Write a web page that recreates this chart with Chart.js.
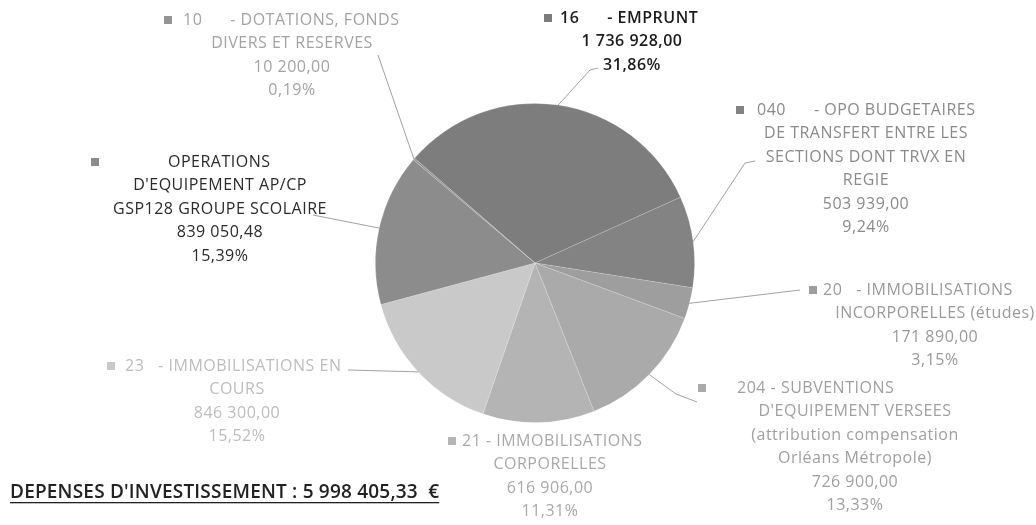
<!DOCTYPE html>
<html>
<head>
<meta charset="utf-8">
<script src="https://cdn.jsdelivr.net/npm/chart.js@4.4.0/dist/chart.umd.min.js"></script>
<style>
  html, body { margin: 0; padding: 0; background: #fff; }
  #wrap { position: relative; width: 1036px; height: 525px; }
</style>
</head>
<body>
<div id="wrap"><canvas id="grafico" width="1036" height="525"></canvas></div>
<script>
// Donnees du graphique (ordre horaire depuis l'emprunt)
const codes = ['16', '040', '20', '204', '21', '23', '', '10'];
const categories = [
  ['- EMPRUNT'],
  ['- OPO BUDGETAIRES', 'DE TRANSFERT ENTRE LES', 'SECTIONS DONT TRVX EN', 'REGIE'],
  ['- IMMOBILISATIONS', 'INCORPORELLES (études)'],
  ['- SUBVENTIONS', "D'EQUIPEMENT VERSEES", '(attribution compensation', 'Orléans Métropole)'],
  ['- IMMOBILISATIONS', 'CORPORELLES'],
  ['- IMMOBILISATIONS EN', 'COURS'],
  ['OPERATIONS', "D'EQUIPEMENT AP/CP", 'GSP128 GROUPE SCOLAIRE'],
  ['- DOTATIONS, FONDS', 'DIVERS ET RESERVES']
];
const montants = [1736928.00, 503939.00, 171890.00, 726900.00, 616906.00, 846300.00, 839050.48, 10200.00];
const montantsTexte = ['1 736 928,00', '503 939,00', '171 890,00', '726 900,00', '616 906,00', '846 300,00', '839 050,48', '10 200,00'];
const pourcentages = ['31,86%', '9,24%', '3,15%', '13,33%', '11,31%', '15,52%', '15,39%', '0,19%'];
const titre = "DEPENSES D'INVESTISSEMENT : 5 998 405,33  €";

// Couleurs (scan en niveaux de gris)
const couleurs = ['#7d7d7d', '#838383', '#9e9e9e', '#aaaaaa', '#b4b4b4', '#c9c9c9', '#8c8c8c', '#949494'];
const couleursTexte = ['#1c1c1c', '#8a8a8a', '#9a9a9a', '#a0a0a0', '#a9a9a9', '#bdbdbd', '#2a2a2a', '#a3a3a3'];
const gras = [true, false, false, false, false, false, false, false];

// Position des etiquettes : centre du bloc, premiere ligne, carre, debut du texte
const etiquettes = [
  { cx: 632, y: 18, sq: 548, tx: 560, sep: '      ' },
  { cx: 866, y: 110, sq: 740, tx: 757, sep: '      ' },
  { cx: 935, y: 290, sq: 813, tx: 823, sep: '   ' },
  { cx: 855, y: 388, sq: 702, tx: 737, sep: ' ' },
  { cx: 550, y: 441, sq: 452, tx: 462, sep: ' ' },
  { cx: 237, y: 366, sq: 111, tx: 125, sep: '   ' },
  { cx: 220, y: 162, sq: 95, tx: 168, sep: '' },
  { cx: 292, y: 20, sq: 168, tx: 183, sep: '      ' }
];
// coude des traits de rappel (null = pas de trait)
const coudes = [
  [[590, 70], [598, 68]],
  [[745, 163], [755, 161]],
  [[800, 290]],
  [[676, 394], [697, 402]],
  null,
  [[348, 370]],
  [[313, 215]],
  [[378, 55]]
];

const hauteurLigne = 23.5;
const police = '"Open Sans", sans-serif';

const etiquettesPlugin = {
  id: 'etiquettes',
  afterDraw(chart) {
    const ctx = chart.ctx;
    const arcs = chart.getDatasetMeta(0).data;
    ctx.save();
    // traits de rappel
    arcs.forEach((arc, i) => {
      if (!coudes[i]) return;
      const p = arc.getProps(['x', 'y', 'startAngle', 'endAngle', 'outerRadius'], true);
      const a = (p.startAngle + p.endAngle) / 2;
      const x0 = p.x + Math.cos(a) * p.outerRadius;
      const y0 = p.y + Math.sin(a) * p.outerRadius;
      ctx.beginPath();
      ctx.moveTo(x0, y0);
      coudes[i].forEach(c => ctx.lineTo(c[0], c[1]));
      ctx.strokeStyle = '#8a8a8a';
      ctx.lineWidth = 0.8;
      ctx.stroke();
    });
    // textes
    ctx.textBaseline = 'middle';
    ctx.letterSpacing = '0.5px';
    categories.forEach((lignes, i) => {
      const e = etiquettes[i];
      ctx.font = (gras[i] ? '600 ' : '') + '16px ' + police;
      ctx.fillStyle = couleurs[i];
      ctx.fillRect(e.sq - 4, e.y - 4, 8, 8);
      ctx.fillStyle = couleursTexte[i];
      ctx.textAlign = 'left';
      const premiere = codes[i] ? codes[i] + e.sep + lignes[0] : lignes[0];
      ctx.fillText(premiere, e.tx, e.y);
      ctx.textAlign = 'center';
      const reste = lignes.slice(1).concat([montantsTexte[i], pourcentages[i]]);
      reste.forEach((t, k) => ctx.fillText(t, e.cx, e.y + (k + 1) * hauteurLigne));
    });
    // titre souligne
    ctx.letterSpacing = '0.2px';
    ctx.font = '600 19px ' + police;
    ctx.fillStyle = '#222';
    ctx.textAlign = 'left';
    ctx.fillText(titre, 10, 493);
    const w = ctx.measureText(titre).width;
    ctx.fillRect(10, 502, w, 1.3);
    ctx.restore();
  }
};

const ctx = document.getElementById('grafico').getContext('2d');
const myChart = new Chart(ctx, {
  type: 'pie',
  data: {
    labels: categories,
    datasets: [{
      data: montants,
      backgroundColor: couleurs,
      borderColor: 'rgba(255,255,255,0.2)',
      borderWidth: 0.8
    }]
  },
  options: {
    responsive: false,
    animation: false,
    rotation: -49,
    layout: { padding: { left: 375, right: 341, top: 103, bottom: 102 } },
    plugins: {
      legend: { display: false },
      tooltip: { enabled: false }
    }
  },
  plugins: [etiquettesPlugin]
});
</script>
</body>
</html>
